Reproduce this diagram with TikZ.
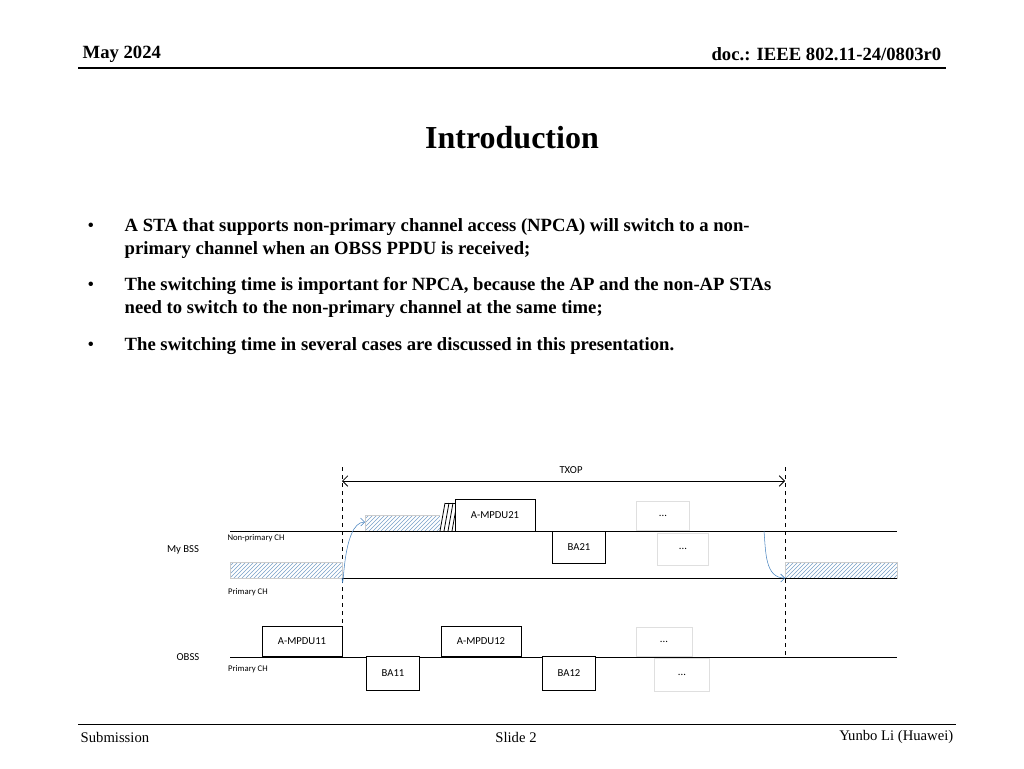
\documentclass[tikz,border=0pt]{standalone}
\usepackage{fontspec}
\setmainfont{Liberation Serif}
\newfontfamily\calfont{Carlito}
\usetikzlibrary{patterns,arrows.meta}
\definecolor{hb}{RGB}{120,160,200}
\definecolor{ab}{RGB}{70,130,190}
\begin{document}
\begin{tikzpicture}[x=0.75pt,y=-0.75pt,
  fr/.style={draw,fill=white,line width=0.6pt},
  lt/.style={draw=gray!25,fill=white,line width=0.6pt},
  hat/.style={draw=gray!40,pattern=north east lines,pattern color=hb},
  lab/.style={font=\calfont\fontsize{8}{9}\selectfont},
  sm/.style={font=\calfont\fontsize{6.5}{7}\selectfont},
  bul/.style={anchor=west,font=\bfseries\fontsize{14}{16}\selectfont}]
\useasboundingbox (0,0) rectangle (1024,768);
% header
\node[anchor=west,font=\bfseries\fontsize{14}{16}\selectfont] (hd1) at (78,54) {May 2024};
\node[anchor=east,font=\bfseries\fontsize{14}{16}\selectfont] (hd2) at (946,54) {doc.: IEEE 802.11-24/0803r0};
\draw[line width=0.8pt] (78,68) -- (946,68);
\node[font=\bfseries\fontsize{24}{28}\selectfont] (title) at (512,138) {Introduction};
\foreach \y/\t in {227/{A STA that supports non-primary channel access (NPCA) will switch to a non-},250/{primary channel when an OBSS PPDU is received;},286/{The switching time is important for NPCA, because the AP and the non-AP STAs},309/{need to switch to the non-primary channel at the same time;},346/{The switching time in several cases are discussed in this presentation.}}
  \node[bul] at (120,\y) {\t};
\foreach \y in {227,286,346} \node[font=\fontsize{14}{16}\selectfont] at (91,\y) {•};
% footer
\draw[line width=0.6pt] (78,724) -- (956,724);
\node[anchor=west,font=\fontsize{11}{13}\selectfont] (f1) at (76,737) {Submission};
\node[font=\fontsize{11}{13}\selectfont] (f2) at (516,737) {Slide 2};
\node[anchor=east,font=\fontsize{11}{13}\selectfont] (f3) at (958,737) {Yunbo Li (Huawei)};
% diagram
\draw[dashed,line width=0.6pt] (342,467) -- (342,657);
\draw[dashed,line width=0.6pt] (785,467) -- (785,657);
\coordinate (t1) at (342,481); \coordinate (t2) at (785,481);
\draw[{Straight Barb[length=4pt]}-{Straight Barb[length=4pt]},line width=0.6pt] (t1) -- (t2);
\node[lab] (txop) at (571,470) {TXOP};
\fill[hat] (230,562) rectangle (342,578);
\fill[hat] (785,562) rectangle (897,578);
\fill[hat] (365,515) rectangle (440,531);
\draw (230,531) -- (897,531);
\draw (342,578) -- (897,578);
\draw (230,657) -- (897,657);
\fill[white] (440,503) rectangle (455,531);
\foreach \i in {0,1,2,3} \draw[line width=0.6pt] (440+\i*4,531) -- (445+\i*4,503);
\draw[line width=0.6pt] (445,503) -- (455,503);
\node[fr,minimum width=60pt,minimum height=24pt,lab] (a21) at (495,515) {A-MPDU21};
\node[lt,minimum width=40pt,minimum height=22pt,lab] (d1) at (663,516) {...};
\node[fr,minimum width=40pt,minimum height=24pt,lab] (ba21) at (579,547) {BA21};
\node[lt,minimum width=38pt,minimum height=24pt,lab] (d2) at (683,549) {...};
\node[fr,minimum width=60pt,minimum height=23pt,lab] (a11) at (302,641.5) {A-MPDU11};
\node[fr,minimum width=60pt,minimum height=23pt,lab] (a12) at (481,641.5) {A-MPDU12};
\node[lt,minimum width=42pt,minimum height=22pt,lab] (d3) at (664,642) {...};
\node[fr,minimum width=40pt,minimum height=25pt,lab] (ba11) at (393,673.5) {BA11};
\node[fr,minimum width=40pt,minimum height=25pt,lab] (ba12) at (569,673.5) {BA12};
\node[lt,minimum width=41pt,minimum height=25pt,lab] (d4) at (682,675) {...};
\coordinate (c1) at (342,578); \coordinate (c2) at (365,522);
\draw[ab,-{Straight Barb[length=3pt]}] (c1) to[out=-85,in=180] (c2);
\coordinate (c3) at (764,531); \coordinate (c4) at (785,578);
\draw[ab,-{Straight Barb[length=3pt]}] (c3) to[out=-85,in=180] (c4);
\node[sm] (npl) at (256,538) {Non-primary CH};
\node[lab] (mb) at (183,550) {My BSS};
\node[sm] (pl1) at (248,592) {Primary CH};
\node[lab] (ob) at (188,657) {OBSS};
\node[sm] (pl2) at (248,669) {Primary CH};
\end{tikzpicture}
\end{document}
